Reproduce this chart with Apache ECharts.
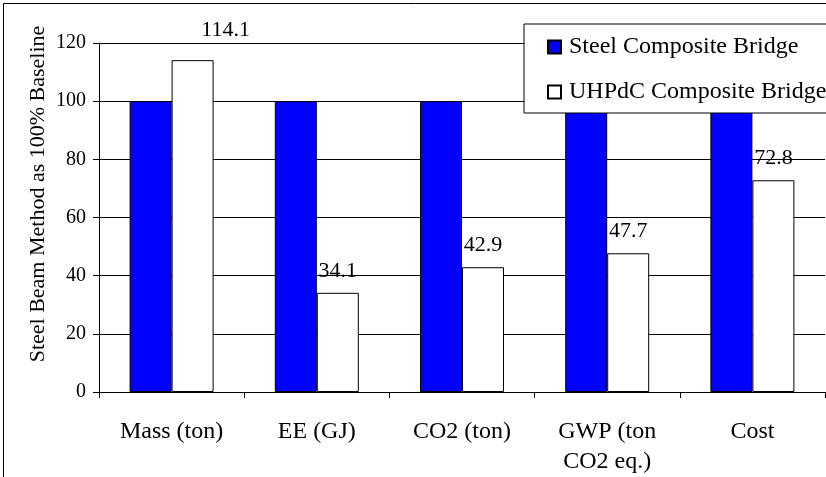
<!DOCTYPE html>
<html>
<head>
<meta charset="utf-8">
<script src="https://cdn.jsdelivr.net/npm/echarts@6/dist/echarts.min.js"></script>
<style>
  html, body { margin: 0; padding: 0; background: #fff; }
</style>
</head>
<body>
<div id="chart" style="width:826px;height:477px;"></div>
<script>
// data
var categories = ["Mass (ton)", "EE (GJ)", "CO2 (ton)", "GWP (ton\nCO2 eq.)", "Cost"];
var steelValues = [100, 100, 100, 100, 100];
var uhpdcValues = [114.1, 34.1, 42.9, 47.7, 72.8];
var seriesNames = ["Steel Composite Bridge", "UHPdC Composite Bridge"];
var yTicks = { min: 0, max: 120, interval: 20 };

var serif = "'Liberation Serif', 'Times New Roman', serif";

var myChart = echarts.init(document.getElementById("chart"));

myChart.setOption({
  backgroundColor: "#fff",
  animation: false,
  textStyle: { fontFamily: serif, color: "#000" },
  grid: { left: 99, right: 1, top: 43, bottom: 85 },
  legend: {
    orient: "vertical",
    left: 524,
    top: 24,
    padding: [11, 30, 9, 23],
    itemGap: 21,
    itemWidth: 13,
    itemHeight: 13,
    backgroundColor: "#fff",
    borderColor: "#000",
    borderWidth: 1,
    borderRadius: 0,
    icon: "rect",
    textStyle: { fontFamily: serif, fontSize: 24, color: "#000", padding: [0, 0, 0, 3] },
    data: seriesNames
  },
  xAxis: {
    type: "category",
    data: categories,
    axisLine: { lineStyle: { color: "#000", width: 1 } },
    axisTick: { show: true, length: 6, lineStyle: { color: "#000" } },
    axisLabel: { fontFamily: serif, fontSize: 24, color: "#000", margin: 25, lineHeight: 30 }
  },
  yAxis: {
    type: "value",
    min: yTicks.min,
    max: yTicks.max,
    interval: yTicks.interval,
    axisLine: { show: true, lineStyle: { color: "#000", width: 1 } },
    axisTick: { show: true, length: 6, lineStyle: { color: "#000" } },
    axisLabel: { fontFamily: serif, fontSize: 20, color: "#000", margin: 13 },
    splitLine: { show: true, lineStyle: { color: "#000", width: 1 } }
  },
  graphic: [
    {
      type: "rect",
      left: 1, top: 1,
      shape: { width: 830, height: 480 },
      style: { fill: "none", stroke: "#000", lineWidth: 1 },
      silent: true
    },
    {
      type: "text",
      x: 38, y: 194,
      rotation: Math.PI / 2,
      style: {
        text: "Steel Beam Method as 100% Baseline",
        font: "22px " + serif,
        fill: "#000",
        align: "center",
        verticalAlign: "middle"
      }
    }
  ],
  series: [
    {
      name: seriesNames[0],
      type: "bar",
      barWidth: 42,
      barGap: 0,
      itemStyle: { color: "#0000ff", borderColor: "#000", borderWidth: 1 },
      data: steelValues
    },
    {
      name: seriesNames[1],
      type: "bar",
      barWidth: 42,
      barGap: 0,
      itemStyle: { color: "#fff", borderColor: "#000", borderWidth: 1 },
      label: {
        show: true,
        position: "top",
        distance: 11,
        fontFamily: serif,
        fontSize: 22,
        color: "#000"
      },
      data: uhpdcValues.map(function (v, i) {
        // first label sits up and to the right in the original
        return i === 0 ? { value: v, label: { offset: [33, -8] } } : v;
      })
    }
  ]
});
</script>
</body>
</html>
